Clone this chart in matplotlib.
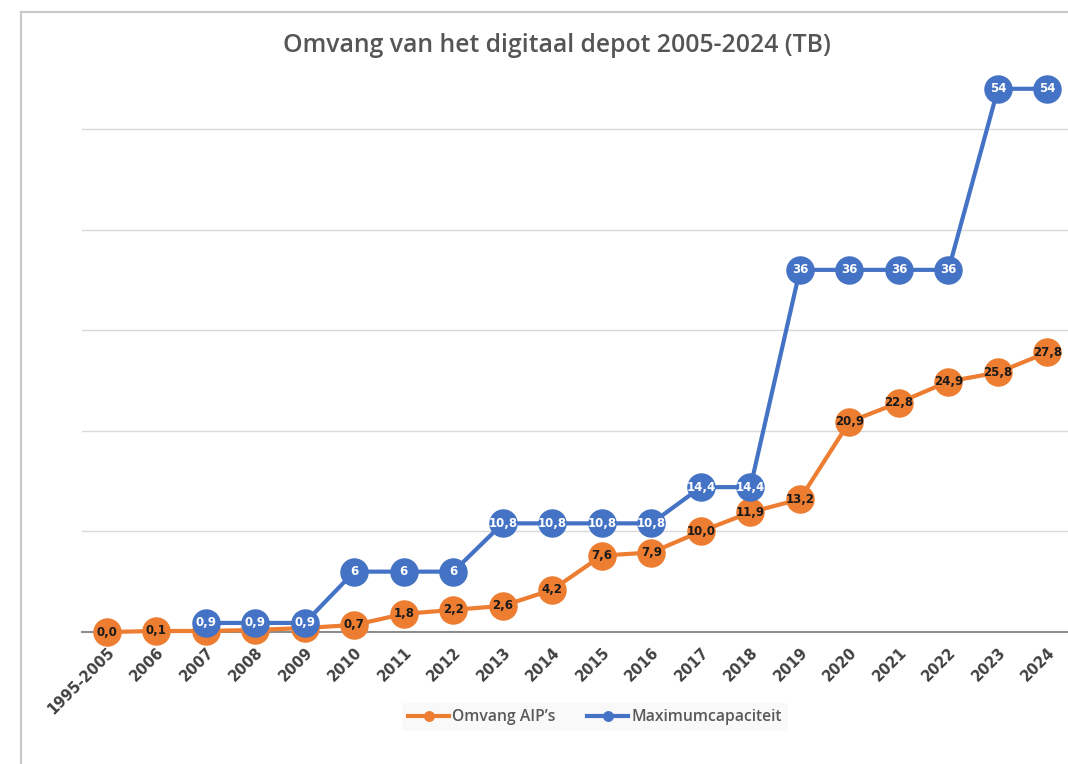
import numpy as np
import matplotlib
matplotlib.use("Agg")
import matplotlib.pyplot as plt
from matplotlib.lines import Line2D

categories = ["1995-2005", "2006", "2007", "2008", "2009", "2010", "2011", "2012",
              "2013", "2014", "2015", "2016", "2017", "2018", "2019", "2020",
              "2021", "2022", "2023", "2024"]
omvang = [0.0, 0.1, 0.1, 0.2, 0.4, 0.7, 1.8, 2.2, 2.6, 4.2, 7.6, 7.9, 10.0,
          11.9, 13.2, 20.9, 22.8, 24.9, 25.8, 27.8]
maxcap = [np.nan, np.nan, 0.9, 0.9, 0.9, 6, 6, 6, 10.8, 10.8, 10.8, 10.8,
          14.4, 14.4, 36, 36, 36, 36, 54, 54]

title = "Omvang van het digitaal depot 2005-2024 (TB)"
orange = "#ED7D31"
blue = "#4472C4"

W, H = 1068, 764
fig = plt.figure(figsize=(W / 100, H / 100), dpi=100)
fig.patch.set_facecolor("white")

left, right = 82 / W, 1.0
bottom = (H - 632) / H
top = (H - 58.6) / H
ax = fig.add_axes([left, bottom, right - left, top - bottom])
ax.set_facecolor("white")

x = np.arange(len(categories))

ax.plot(x, omvang, color=orange, lw=3.0, marker="o", ms=19.5,
        mfc=orange, mec=orange, zorder=3, label="Omvang AIP’s", clip_on=False)
for xi, v in zip(x, omvang):
    ax.text(xi, v, f"{v:.1f}".replace(".", ","), ha="center", va="center",
            fontsize=8.5, fontweight="bold", color="#1a1a1a", zorder=4,
            family="DejaVu Sans")

ax.plot(x, maxcap, color=blue, lw=3.0, marker="o", ms=19.5,
        mfc=blue, mec=blue, zorder=5, label="Maximumcapaciteit", clip_on=False)
for xi, v in zip(x, maxcap):
    if np.isnan(v):
        continue
    s = f"{int(v)}" if float(v).is_integer() else f"{v:.1f}".replace(".", ",")
    ax.text(xi, v, s, ha="center", va="center", fontsize=8.5,
            fontweight="bold", color="white", zorder=6, family="DejaVu Sans")

ax.set_xlim(-0.5, (1068 - 107) / 49.5)
ax.set_ylim(0, 57)
ax.set_yticks([10, 20, 30, 40, 50])
ax.yaxis.grid(True, color="#d9d9d9", lw=1.0)
ax.set_axisbelow(True)
ax.tick_params(axis="y", left=False, labelleft=False)
ax.tick_params(axis="x", length=0, pad=9)
ax.set_xticks(x)
ax.set_xticklabels(categories, rotation=45, ha="right", rotation_mode="anchor",
                   fontsize=10.5, fontweight="bold", color="#404040",
                   family="DejaVu Sans")
for s in ["top", "right", "left"]:
    ax.spines[s].set_visible(False)
ax.spines["bottom"].set_color("#8c8c8c")
ax.spines["bottom"].set_linewidth(1.5)
ax.spines["bottom"].set_zorder(2)

fig.text(557 / W, 1 - 45 / H, title, ha="center", va="center",
         fontsize=17.8, fontweight="semibold", color="#555555", family="Open Sans")

leg = fig.legend(loc="center", bbox_to_anchor=(595 / W, 1 - 717 / H), ncol=2,
                 frameon=True, handlelength=2.6, markerscale=0.35,
                 columnspacing=2.0, handletextpad=0.2, borderpad=0.4,
                 prop={"family": "Open Sans", "size": 11.3, "weight": "semibold"})
leg.get_frame().set_facecolor("#f8f8f8")
leg.get_frame().set_edgecolor("none")
for t in leg.get_texts():
    t.set_color("#595959")

# outer chart frame
fx, fy = 21 / W, 1 - 12 / H
fig.add_artist(Line2D([fx, fx], [0, fy], color="#c8c8c8", lw=1.5,
                      transform=fig.transFigure))
fig.add_artist(Line2D([fx, 1], [fy, fy], color="#c8c8c8", lw=1.5,
                      transform=fig.transFigure))

fig.savefig("out.png", dpi=100)
